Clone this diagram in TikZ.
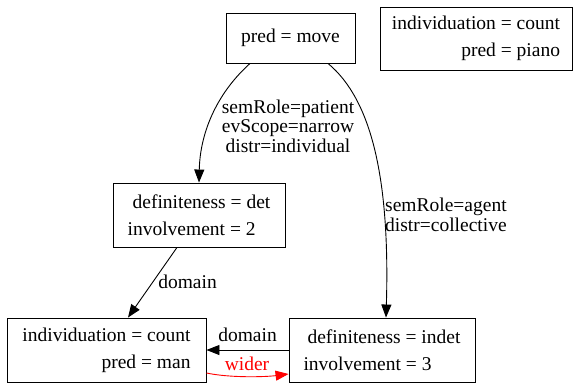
\documentclass[tikz,border=0pt]{standalone}
\usepackage{fontspec}
\setmainfont{Liberation Serif}
\usetikzlibrary{arrows.meta}
\begin{document}
\begin{tikzpicture}[x=1pt,y=-1pt,
  every node/.style={font=\fontsize{19.5}{27}\selectfont},
  box/.style={draw,line width=0.9pt,inner sep=0pt},
  edge/.style={line width=0.9pt,-{Triangle[length=13pt,width=10pt]}},
  lbl/.style={inner sep=0pt,font=\fontsize{19.5}{19.5}\selectfont}]
\useasboundingbox (0,0) rectangle (573,383);
% nodes
\node[box,minimum width=129,minimum height=50] (move) at (290.5,38) {pred = move};
\node[box,minimum width=192,minimum height=63,align=right] (piano) at (476,38.5) {individuation = count\\pred = piano};
\node[box,minimum width=172,minimum height=64,align=left] (det) at (199,215) {\hspace*{5pt}definiteness = det\\involvement = 2};
\node[box,minimum width=199,minimum height=64,align=right] (man) at (106.5,350) {individuation = count\\pred = man};
\node[box,minimum width=186,minimum height=64,align=left] (indet) at (382,350) {\hspace*{4pt}definiteness = indet\\involvement = 3};
% edges
\draw[edge] ([xshift=-40.5]move.south) .. controls (215,95) and (200,135) .. (det.north);
\draw[edge] ([xshift=37.5]move.south) .. controls (372,100) and (390,180) .. ([xshift=4]indet.north);
\draw[edge] ([xshift=-22]det.south) -- ([xshift=21.5]man.north);
\draw[edge] (indet.west) -- (man.east);
\draw[edge,red] ([yshift=-23]man.east) .. controls (230,378) and (265,377) .. ([yshift=-24]indet.west);
% labels
\node[lbl,align=center] (l1) at (288,126) {semRole=patient\\evScope=narrow\\distr=individual};
\node[lbl,align=left,anchor=west] (l2) at (385,215) {semRole=agent\\distr=collective};
\node[lbl] (l3) at (187.5,282) {domain};
\node[lbl] (l4) at (247.5,335) {domain};
\node[lbl,text=red] (l5) at (247,364) {wider};
\end{tikzpicture}
\end{document}
